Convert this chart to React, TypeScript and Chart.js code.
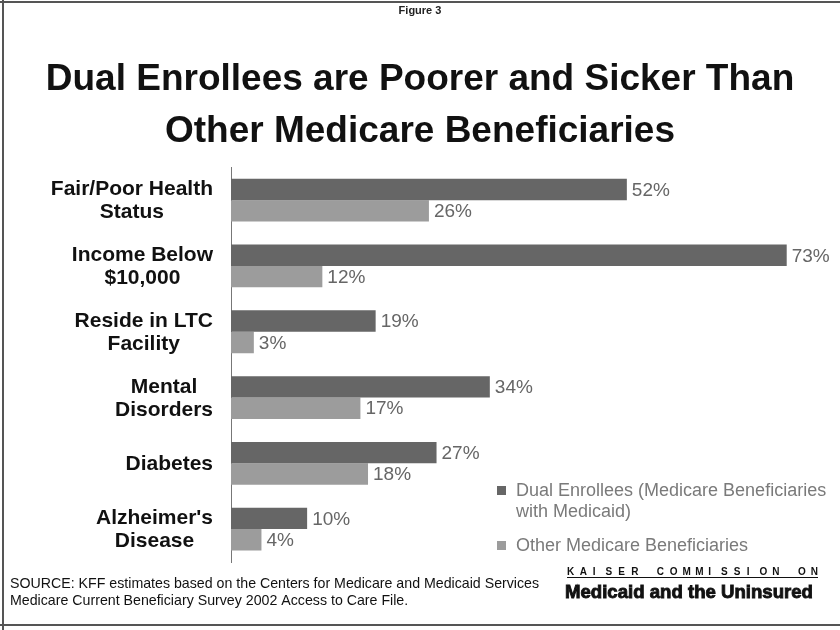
import React, { useEffect, useRef } from 'react';
import { Chart, registerables } from 'chart.js';

Chart.register(...registerables);

const figureLabel = 'Figure 3';
const titleLines = ['Dual Enrollees are Poorer and Sicker Than', 'Other Medicare Beneficiaries'];
const categories: string[][] = [
  ['Fair/Poor Health', 'Status'],
  ['Income Below', '$10,000'],
  ['Reside in LTC', 'Facility'],
  ['Mental', 'Disorders'],
  ['Diabetes'],
  ["Alzheimer's", 'Disease'],
];
const dualEnrollees = [52, 73, 19, 34, 27, 10];
const otherBeneficiaries = [26, 12, 3, 17, 18, 4];
const seriesNames = ['Dual Enrollees (Medicare Beneficiaries with Medicaid)', 'Other Medicare Beneficiaries'];
const legendLines: string[][] = [
  ['Dual Enrollees (Medicare Beneficiaries', 'with Medicaid)'],
  ['Other Medicare Beneficiaries'],
];
const sourceLines = [
  'SOURCE: KFF estimates based on the Centers for Medicare and Medicaid Services',
  'Medicare Current Beneficiary Survey 2002 Access to Care File.',
];
const logoTop = 'KAISER COMMISSION ON';
const logoBottom = 'Medicaid and the Uninsured';
const xMax = 80;

const SANS = '"Liberation Sans", Arial, sans-serif';
const DARK = '#666666';
const LIGHT = '#9c9c9c';

const decorPlugin = {
  id: 'decor',
  beforeDraw(chart: any) {
    const { ctx, width, height } = chart;
    ctx.save();
    ctx.fillStyle = '#ffffff';
    ctx.fillRect(0, 0, width, height);
    ctx.strokeStyle = '#555555';
    ctx.lineWidth = 2;
    ctx.beginPath();
    ctx.moveTo(0, 2);
    ctx.lineTo(width, 2);
    ctx.moveTo(3, 0);
    ctx.lineTo(3, height);
    ctx.moveTo(0, 625);
    ctx.lineTo(width, 625);
    ctx.stroke();
    ctx.restore();
  },
  afterDraw(chart: any) {
    const { ctx } = chart;
    const yScale = chart.scales.y;
    ctx.save();
    // category labels
    ctx.font = `bold 21px ${SANS}`;
    ctx.fillStyle = '#111111';
    ctx.textBaseline = 'middle';
    ctx.textAlign = 'center';
    const rightEdge = chart.chartArea.left - 18;
    categories.forEach((lines, i) => {
      const y = yScale.getPixelForValue(i);
      const maxW = Math.max(...lines.map((l) => ctx.measureText(l).width));
      const cx = rightEdge - maxW / 2;
      const lh = 23;
      lines.forEach((l, j) => {
        ctx.fillText(l, cx, y + (j - (lines.length - 1) / 2) * lh + 1);
      });
    });
    // value labels
    ctx.font = `19px ${SANS}`;
    ctx.fillStyle = '#666666';
    ctx.textAlign = 'left';
    chart.data.datasets.forEach((ds: any, di: number) => {
      const meta = chart.getDatasetMeta(di);
      meta.data.forEach((el: any, i: number) => {
        ctx.fillText(`${ds.data[i]}%`, el.x + 5, el.y + 1);
      });
    });
    // legend
    const colors = [DARK, LIGHT];
    let ly = 491;
    ctx.font = `18px ${SANS}`;
    legendLines.forEach((lines, k) => {
      ctx.fillStyle = colors[k];
      ctx.fillRect(497, ly - 5, 9, 9);
      ctx.fillStyle = '#7a7a7a';
      lines.forEach((l, j) => {
        ctx.fillText(l, 516, ly + j * 21);
      });
      ly += lines.length * 21 + 13;
    });
    // source
    ctx.fillStyle = '#111111';
    ctx.font = `14.2px ${SANS}`;
    ctx.fillText(sourceLines[0], 10, 584);
    ctx.fillText(sourceLines[1], 10, 601);
    // logo
    ctx.font = `bold 10px ${SANS}`;
    const chars = logoTop.split('');
    const x0 = 567;
    const x1 = 818;
    const step = (x1 - x0 - ctx.measureText(chars[chars.length - 1]).width) / (chars.length - 1);
    chars.forEach((c, i) => ctx.fillText(c, x0 + i * step, 572));
    ctx.fillRect(x0, 577, x1 - x0, 1);
    ctx.font = `bold 18.6px ${SANS}`;
    ctx.strokeStyle = '#111111';
    ctx.lineWidth = 0.9;
    ctx.strokeText(logoBottom, 565, 593);
    ctx.fillText(logoBottom, 565, 593);
    ctx.restore();
  },
};

export default function App() {
  const ref = useRef<HTMLCanvasElement | null>(null);
  useEffect(() => {
    if (!ref.current) return;
    const chart = new Chart(ref.current, {
      type: 'bar',
      data: {
        labels: categories,
        datasets: [
          {
            label: seriesNames[0],
            data: dualEnrollees,
            backgroundColor: DARK,
            barPercentage: 1,
            categoryPercentage: 0.65,
          },
          {
            label: seriesNames[1],
            data: otherBeneficiaries,
            backgroundColor: LIGHT,
            barPercentage: 1,
            categoryPercentage: 0.65,
          },
        ],
      },
      options: {
        indexAxis: 'y',
        responsive: false,
        animation: false,
        layout: { padding: { left: 0, right: 0, top: 0, bottom: 68 } },
        scales: {
          x: { display: false, min: 0, max: xMax },
          y: {
            grid: { display: false },
            ticks: { display: false },
            border: { display: true, color: '#777777', width: 1 },
            afterFit: (scale: any) => {
              scale.width = 231;
            },
          },
        },
        plugins: {
          legend: { display: false },
          tooltip: { enabled: false },
          title: {
            display: true,
            text: figureLabel,
            color: '#222222',
            font: { family: SANS, size: 11, weight: 'bold' },
            padding: { top: 4, bottom: 0 },
          },
          subtitle: {
            display: true,
            text: titleLines,
            color: '#111111',
            font: { family: SANS, size: 37, weight: 'bold', lineHeight: 1.42 },
            padding: { top: 36, bottom: 9 },
          },
        },
      },
      plugins: [decorPlugin],
    });
    return () => chart.destroy();
  }, []);
  return (
    <div style={{ position: 'absolute', left: 0, top: 0, width: 840, height: 630 }}>
      <canvas ref={ref} width={840} height={630} />
    </div>
  );
}
